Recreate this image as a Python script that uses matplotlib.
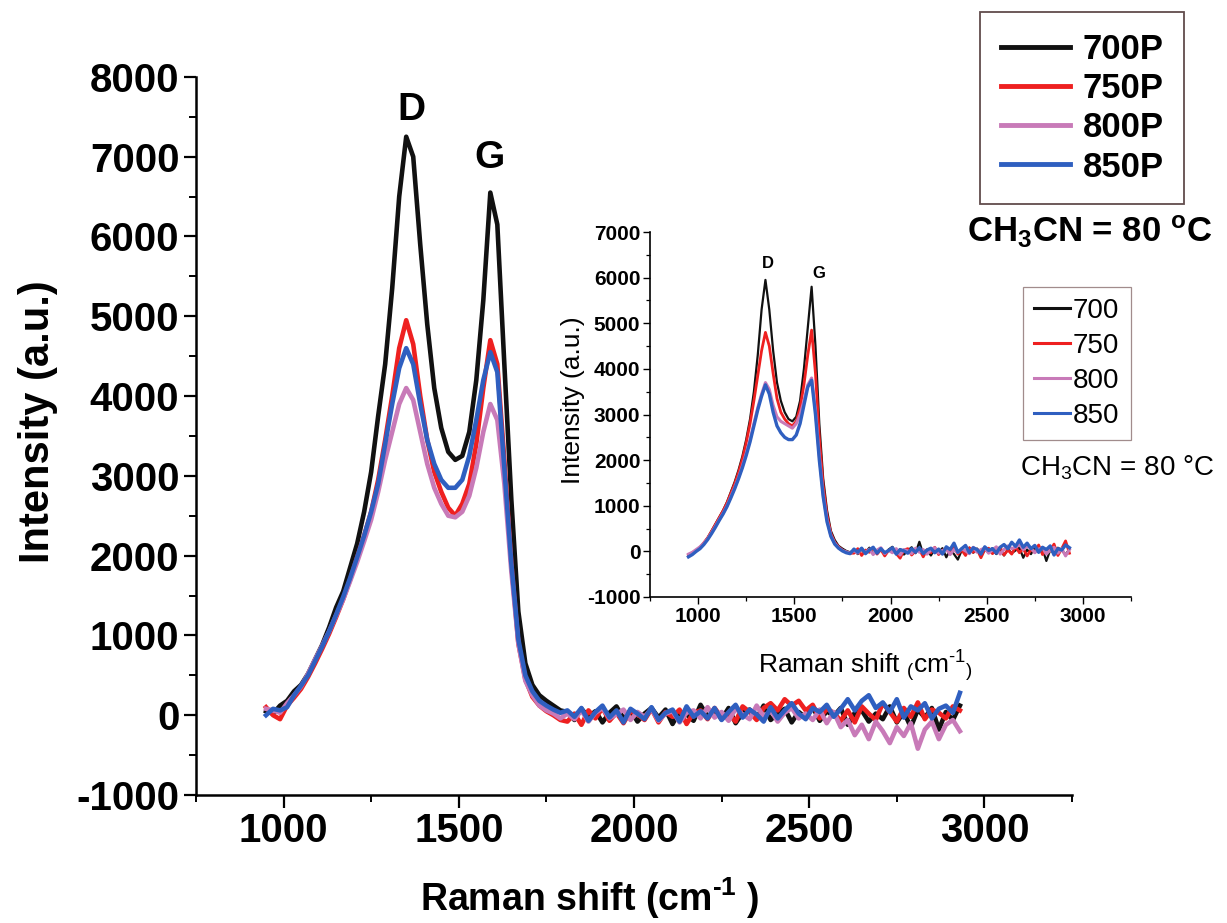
import matplotlib
matplotlib.use("Agg")
import matplotlib.pyplot as plt
import numpy as np
from matplotlib.ticker import MultipleLocator

plt.rcParams.update({
    "font.family": ["Liberation Sans", "DejaVu Sans"],
    "mathtext.fontset": "custom",
    "mathtext.rm": "Liberation Sans",
    "mathtext.bf": "Liberation Sans:bold",
    "mathtext.default": "regular",
    "axes.unicode_minus": False,
})

# Raman shift grid (cm-1), read every 20 cm-1
shift = np.arange(950, 2931, 20)

# ---- main panel (700P..850P), intensity ----
main_700 = [50, 20, 120, 180, 300, 380, 520, 700, 880, 1100, 1350, 1550, 1850, 2150, 2550,
            3050, 3750, 4400, 5350, 6500, 7250, 7000, 5900, 4900, 4100, 3600, 3300, 3200, 3250,
            3550, 4200, 5200, 6550, 6150, 4400, 2700, 1300, 650, 380, 250, 180, 120, 60,
            40, -60, 80, -20, 50, -90, 30, 110, -40, 60, -80, 20, 90, -30, 70, -110, 40, 10,
            -70, 130, -20, 60, -50, 90, -100, 30, 70, -40, 120, -60, 20, 80, -90, 40, -30, 100,
            -70, 50, -10, 90, -120, 30, 60, -80, 20, -50, 110, -90, 40, -150, 70, -30, 90, -180,
            40, -60, 120]
main_750 = [100, 0, -50, 120, 220, 330, 480, 650, 830, 1020, 1230, 1450, 1700, 1980, 2250,
            2550, 2950, 3450, 4000, 4600, 4950, 4650, 4000, 3450, 3050, 2800, 2600, 2500, 2650,
            2900, 3400, 4100, 4700, 4400, 3200, 1900, 900, 450, 230, 120, 50, 0, -60,
            -80, 20, -120, 60, -40, 90, -70, 30, -100, 50, 10, -60, 80, -90, 40, -20, 70, -110,
            30, 60, -50, 90, -30, 20, -80, 110, 40, -60, 90, 150, 60, 200, 120, 180, 60, 130,
            -40, 80, 30, -70, 60, -90, 110, 20, -60, 150, 40, -80, 90, -20, 160, -50, 70, 30,
            -40, 110, 60]
main_800 = [80, 60, 30, 150, 250, 360, 520, 700, 870, 1050, 1250, 1450, 1680, 1920, 2180,
            2450, 2800, 3200, 3550, 3900, 4100, 3950, 3550, 3150, 2850, 2650, 2500, 2480, 2550,
            2750, 3100, 3550, 3900, 3700, 2900, 1800, 900, 430, 250, 120, 60, 20, -40,
            20, -50, 60, -80, 30, 90, -40, 10, 70, -60, 40, -20, 80, -70, 20, 50, -90, 30,
            60, -40, 100, -30, 40, -70, 80, 10, -50, 120, -20, 60, -80, 30, 90, -40, 20, -60,
            70, -100, 40, -150, -60, -250, -120, -300, -80, -200, -350, -150, -260, -100, -420, -180, -80, -300,
            -120, -60, -200]
main_850 = [0, 80, 60, 100, 250, 370, 500, 680, 860, 1050, 1260, 1480, 1720, 1980, 2250,
            2550, 2900, 3400, 3900, 4350, 4600, 4400, 3900, 3450, 3150, 2950, 2850, 2850, 2950,
            3250, 3700, 4200, 4550, 4300, 3100, 1900, 950, 500, 300, 180, 120, 70, 30,
            60, -20, 90, -70, 40, 120, -30, 60, -90, 80, 20, -50, 100, -60, 30, 70, -80, 110,
            -20, 50, -40, 90, -60, 40, 130, -30, 70, 10, -80, 100, -40, 60, 150, 20, -50, 90,
            40, 130, -20, 80, 200, 60, 180, 250, 90, 160, 40, 200, -30, 110, 60, 150, -40, 80,
            120, 30, 280]

# ---- inset panel (700..850) ----
ins_700 = [-100, -50, 0, 80, 180, 300, 450, 600, 750, 900, 1080, 1300, 1520, 1780, 2080,
           2450, 2900, 3500, 4300, 5300, 5950, 5300, 4400, 3700, 3300, 3050, 2900, 2850, 2950,
           3300, 4000, 4900, 5800, 4500, 2800, 1600, 900, 450, 250, 120, 60, 10, -20,
           30, -60, 40, -20, 80, -50, 20, 60, -80, 40, 100, -30, 50, -70, 20, 90, -40, 210,
           -60, 30, -90, 50, -20, 70, -130, 40, -60, -180, 20, -50, 80, -30, 60, -100, 40, -20,
           70, -60, 30, -90, 50, -40, 20, 80, -140, 40, -60, 90, -20, 60, -210, 30, -40, 80,
           20, -70, 50]
ins_750 = [-80, -30, 20, 90, 190, 300, 440, 590, 740, 890, 1060, 1270, 1480, 1730, 2020,
           2380, 2800, 3300, 3850, 4400, 4800, 4500, 3900, 3350, 3050, 2900, 2800, 2750, 2850,
           3150, 3650, 4300, 4850, 3900, 2500, 1450, 800, 400, 200, 100, 30, -20, -40,
           -40, 60, -90, 30, -20, 80, -60, 40, -100, 20, 70, -50, -150, 30, 60, -80, 10, 50,
           -120, 40, -30, 90, -70, 20, 60, -40, 100, -60, 30, -90, 80, -20, 50, -140, 40, 70,
           -50, 20, 90, -80, 30, -60, 100, -30, 60, -100, 40, -20, 140, -70, 50, 10, 160, -90,
           60, 230, -40]
ins_800 = [-60, -20, 40, 100, 180, 280, 410, 550, 700, 840, 1000, 1200, 1400, 1620, 1870,
           2150, 2450, 2800, 3150, 3450, 3700, 3550, 3200, 2950, 2850, 2800, 2750, 2700, 2800,
           3000, 3300, 3650, 3800, 3100, 2100, 1250, 700, 350, 180, 80, 20, -10, -40,
           20, -40, 60, -30, 50, -70, 30, 80, -50, 20, -30, 60, -80, 40, 10, -50, 70, -20,
           40, -60, 30, 80, -40, 20, 50, -70, 40, -30, 60, 10, -50, 90, -20, 40, 70, -40,
           30, 100, -60, 40, 120, 60, 90, 150, 40, 110, 70, -30, 50, 80, -60, 30, 90, -40,
           60, -100, 40]
ins_850 = [-120, -70, 0, 60, 150, 260, 390, 530, 680, 820, 980, 1170, 1370, 1590, 1830,
           2100, 2400, 2750, 3100, 3400, 3650, 3450, 3050, 2750, 2600, 2500, 2450, 2450, 2550,
           2800, 3200, 3600, 3750, 3000, 2000, 1200, 650, 330, 160, 70, 10, -30, -50,
           50, -20, 70, -50, 30, 90, -40, 60, -30, 20, 80, -60, 40, 10, -40, 60, -20, 80,
           -50, 30, 70, -30, 50, -60, 100, 40, 180, -20, 60, 130, -30, 80, 40, -60, 100, 20,
           60, -40, 90, 150, 60, 200, 110, 250, 90, 180, 60, 130, -20, 90, 40, 120, -80, 60,
           30, 140, 80]

main_labels = ["700P", "750P", "800P", "850P"]
ins_labels = ["700", "750", "800", "850"]
colors = ["#111111", "#ee2020", "#c87ab8", "#2f5fc0"]
xticks = [1000, 1500, 2000, 2500, 3000]

fig = plt.figure(figsize=(12.27, 9.23), dpi=100)

# ---------------- main axes ----------------
ax = fig.add_axes([0.1597, 0.1387, 0.714, 0.778])
lines = []
for y, lab, c in zip([main_700, main_750, main_800, main_850], main_labels, colors):
    (ln,) = ax.plot(shift, y, color=c, lw=3.3, label=lab)
    lines.append(ln)

ax.set_xlim(750, 3250)
ax.set_ylim(-1000, 8000)
ax.set_xticks(xticks)
ax.xaxis.set_minor_locator(MultipleLocator(250))
ax.yaxis.set_major_locator(MultipleLocator(1000))
ax.yaxis.set_minor_locator(MultipleLocator(500))
for s in ["top", "right"]:
    ax.spines[s].set_visible(False)
for s in ["left", "bottom"]:
    ax.spines[s].set_linewidth(1.8)
ax.tick_params(which="major", direction="out", length=9, width=1.6, labelsize=29, pad=3)
ax.tick_params(which="minor", direction="out", length=5, width=1.4)
for t in ax.get_xticklabels() + ax.get_yticklabels():
    t.set_fontweight("bold")

ax.set_ylabel("Intensity (a.u.)", fontsize=30, fontweight="bold")
ax.yaxis.set_label_coords(-0.158, 0.52)
ax.set_xlabel("Raman shift (cm$^{\\mathbf{\u20101}}$ )", fontsize=27, fontweight="bold")
ax.xaxis.set_label_coords(0.45, -0.112)

ax.text(1364, 7585, "D", fontsize=28, fontweight="bold", ha="center", va="center")
ax.text(1587, 6980, "G", fontsize=28, fontweight="bold", ha="center", va="center")

leg = fig.legend(handles=lines, loc="upper left", bbox_to_anchor=(980 / 1227, 1 - 12 / 923),
                 borderaxespad=0, prop={"weight": "bold", "size": 25},
                 frameon=True, fancybox=False, edgecolor="#3a2020",
                 handlelength=2.0, handletextpad=0.35, labelspacing=0.18, borderpad=0.6)
leg.get_frame().set_linewidth(1.3)
for h in leg.legend_handles:
    h.set_linewidth(3.5)

fig.text(1090 / 1227, 1 - 232 / 923, r"CH$_\mathbf{3}$CN = 80 $^\mathbf{o}$C",
         fontsize=25, fontweight="bold", ha="center", va="center")

# ---------------- inset axes ----------------
ins = fig.add_axes([650 / 1227, 1 - 597 / 923, 481 / 1227, 365 / 923])
ins_lines = []
for y, lab, c, lw in zip([ins_700, ins_750, ins_800, ins_850], ins_labels, colors,
                         [1.6, 2.0, 2.2, 2.4]):
    (ln,) = ins.plot(shift, y, color=c, lw=lw, label=lab)
    ins_lines.append(ln)

ins.set_xlim(750, 3250)
ins.set_ylim(-1000, 7000)
ins.set_xticks(xticks)
ins.xaxis.set_minor_locator(MultipleLocator(250))
ins.yaxis.set_major_locator(MultipleLocator(1000))
ins.yaxis.set_minor_locator(MultipleLocator(500))
for s in ["top", "right"]:
    ins.spines[s].set_visible(False)
for s in ["left", "bottom"]:
    ins.spines[s].set_linewidth(1.2)
ins.tick_params(which="major", direction="out", length=5, width=1.0, labelsize=15, pad=2)
ins.tick_params(which="minor", direction="out", length=3, width=0.9)
for t in ins.get_xticklabels() + ins.get_yticklabels():
    t.set_fontweight("bold")
ins.patch.set_alpha(0)

ins.set_ylabel("Intensity (a.u.)", fontsize=19)
ins.yaxis.set_label_coords(-0.135, 0.54)
ins.set_xlabel("Raman shift $_($cm$^{\u20101}$$_)$", fontsize=19)
ins.xaxis.set_label_coords(0.448, -0.14)

ins.text(1363, 6320, "D", fontsize=12, fontweight="bold", ha="center", va="center")
ins.text(1625, 6100, "G", fontsize=12, fontweight="bold", ha="center", va="center")

leg2 = fig.legend(handles=ins_lines, loc="upper left", bbox_to_anchor=(1023 / 1227, 1 - 287 / 923),
                  borderaxespad=0, fontsize=20, frameon=True, fancybox=False,
                  edgecolor="#8a7070", handlelength=1.3, handletextpad=0.1,
                  labelspacing=0.32, borderpad=0.4)
leg2.get_frame().set_linewidth(0.9)
for h in leg2.legend_handles:
    h.set_linewidth(2.2)

fig.text(1117 / 1227, 1 - 468 / 923, r"CH$_3$CN = 80 °C", fontsize=20,
         ha="center", va="center")

fig.savefig("out.png", dpi=100)
